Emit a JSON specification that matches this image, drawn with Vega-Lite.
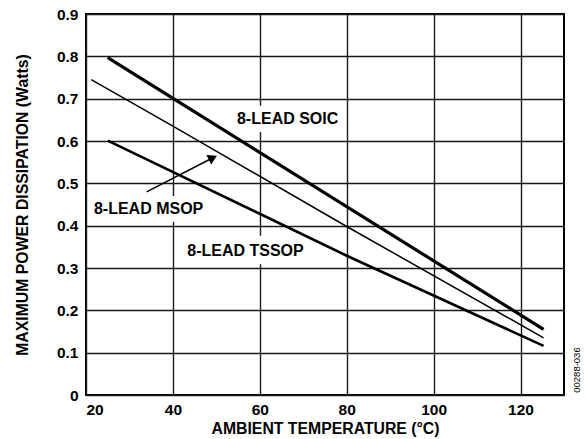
{
  "$schema": "https://vega.github.io/schema/vega-lite/v6.json",
  "autosize": "none",
  "width": 478,
  "height": 381,
  "padding": {"left": 86, "top": 14, "right": 23, "bottom": 44},
  "background": "white",
  "config": {
    "view": {"stroke": "black", "strokeWidth": 2},
    "font": "Liberation Sans",
    "axis": {
      "grid": true,
      "gridColor": "#1a1a1a",
      "gridWidth": 1.4,
      "gridOpacity": 1,
      "domain": false,
      "ticks": false,
      "labelFont": "Liberation Sans",
      "labelFontWeight": "bold",
      "labelFontSize": 15.5,
      "labelColor": "black",
      "titleFont": "Liberation Sans",
      "titleFontWeight": "bold",
      "titleColor": "black"
    }
  },
  "datasets": {
    "curves": [
      {"pkg": "SOIC", "temp": 25, "power": 0.797},
      {"pkg": "SOIC", "temp": 125.3, "power": 0.155},
      {"pkg": "MSOP", "temp": 21.2, "power": 0.745},
      {"pkg": "MSOP", "temp": 40, "power": 0.635},
      {"pkg": "MSOP", "temp": 80, "power": 0.398},
      {"pkg": "MSOP", "temp": 125.3, "power": 0.135},
      {"pkg": "TSSOP", "temp": 25, "power": 0.601},
      {"pkg": "TSSOP", "temp": 80, "power": 0.329},
      {"pkg": "TSSOP", "temp": 125.3, "power": 0.116}
    ],
    "labels": [
      {"label": "8-LEAD SOIC", "temp": 66.4, "power": 0.652},
      {"label": "8-LEAD MSOP", "temp": 34.4, "power": 0.439},
      {"label": "8-LEAD TSSOP", "temp": 56.7, "power": 0.341}
    ],
    "boxes": [
      {"x1": 53.6, "x2": 79.3, "y1": 0.621, "y2": 0.683},
      {"x1": 21.4, "x2": 47.6, "y1": 0.409, "y2": 0.470},
      {"x1": 42.5, "x2": 71.0, "y1": 0.309, "y2": 0.376}
    ],
    "arrow": [
      {"x1": 33.95, "y1": 0.480, "x2": 49.2, "y2": 0.5605}
    ],
    "code": [
      {"label": "00288-036", "temp": 132.9, "power": 0.059}
    ]
  },
  "layer": [
    {
      "data": {"name": "boxes"},
      "mark": {"type": "rect", "color": "white", "clip": true},
      "encoding": {
        "x": {"field": "x1", "type": "quantitative", "scale": {"domain": [20, 130], "nice": false},
              "axis": {"values": [20, 40, 60, 80, 100, 120], "title": "AMBIENT TEMPERATURE (°C)", "titleFontSize": 15.8, "labelPadding": 7, "titlePadding": 4}},
        "x2": {"field": "x2"},
        "y": {"field": "y1", "type": "quantitative", "scale": {"domain": [0, 0.9], "nice": false},
              "axis": {"values": [0, 0.1, 0.2, 0.3, 0.4, 0.5, 0.6, 0.7, 0.8, 0.9], "format": ".1~f", "title": "MAXIMUM POWER DISSIPATION (Watts)", "titleFontSize": 15.8, "labelPadding": 8, "titlePadding": 26}},
        "y2": {"field": "y2"}
      }
    },
    {
      "data": {"name": "curves"},
      "transform": [{"filter": "datum.pkg === 'SOIC'"}],
      "mark": {"type": "line", "color": "black", "strokeWidth": 3.2},
      "encoding": {
        "x": {"field": "temp", "type": "quantitative"},
        "y": {"field": "power", "type": "quantitative"}
      }
    },
    {
      "data": {"name": "curves"},
      "transform": [{"filter": "datum.pkg === 'MSOP'"}],
      "mark": {"type": "line", "color": "black", "strokeWidth": 1.5},
      "encoding": {
        "x": {"field": "temp", "type": "quantitative"},
        "y": {"field": "power", "type": "quantitative"}
      }
    },
    {
      "data": {"name": "curves"},
      "transform": [{"filter": "datum.pkg === 'TSSOP'"}],
      "mark": {"type": "line", "color": "black", "strokeWidth": 2.6},
      "encoding": {
        "x": {"field": "temp", "type": "quantitative"},
        "y": {"field": "power", "type": "quantitative"}
      }
    },
    {
      "data": {"name": "arrow"},
      "mark": {"type": "rule", "color": "black", "strokeWidth": 1.5},
      "encoding": {
        "x": {"field": "x1", "type": "quantitative"},
        "y": {"field": "y1", "type": "quantitative"},
        "x2": {"field": "x2"},
        "y2": {"field": "y2"}
      }
    },
    {
      "data": {"name": "arrow"},
      "mark": {"type": "point", "shape": "triangle-up", "filled": true, "color": "black", "opacity": 1, "size": 110, "angle": 63},
      "encoding": {
        "x": {"field": "x2", "type": "quantitative"},
        "y": {"field": "y2", "type": "quantitative"}
      }
    },
    {
      "data": {"name": "labels"},
      "mark": {"type": "text", "font": "Liberation Sans", "fontWeight": "bold", "fontSize": 16, "color": "black", "align": "center", "baseline": "middle"},
      "encoding": {
        "x": {"field": "temp", "type": "quantitative"},
        "y": {"field": "power", "type": "quantitative"},
        "text": {"field": "label"}
      }
    },
    {
      "data": {"name": "code"},
      "mark": {"type": "text", "font": "Liberation Sans", "fontSize": 9.5, "color": "black", "align": "center", "baseline": "middle", "angle": 270, "clip": false},
      "encoding": {
        "x": {"field": "temp", "type": "quantitative"},
        "y": {"field": "power", "type": "quantitative"},
        "text": {"field": "label"}
      }
    }
  ]
}
